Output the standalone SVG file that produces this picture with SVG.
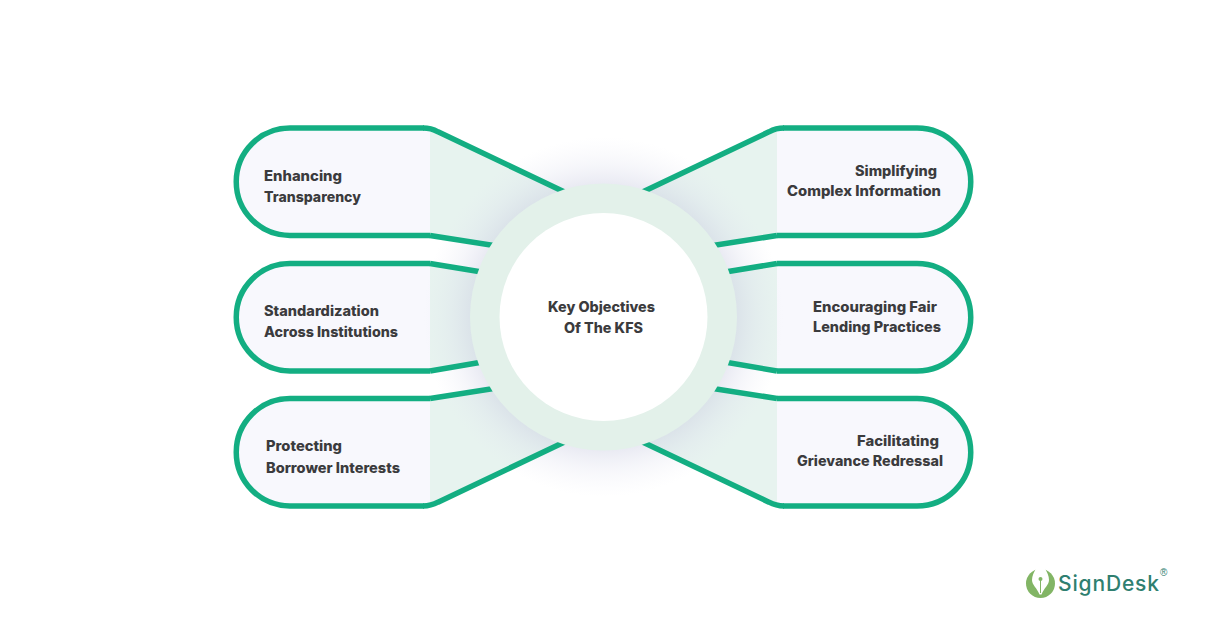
<svg xmlns="http://www.w3.org/2000/svg" width="1206" height="635" viewBox="0 0 1206 635">
<style>
.pill{fill:#f8f8fd}
.fan{fill:#e7f3ef}
.line{fill:none;stroke:#13ae82;stroke-width:5.5;stroke-linejoin:round;stroke-linecap:butt}
.t{font-family:"Inter","Liberation Sans",sans-serif;font-weight:800;font-size:14px;fill:#3b3b3d;transform:translateY(.5px)}
</style>
<defs>
<radialGradient id="glow" gradientUnits="userSpaceOnUse" cx="603.5" cy="317" r="180">
<stop offset="0.72" stop-color="#c9cbe0" stop-opacity="0.45"/>
<stop offset="0.85" stop-color="#d6d8ea" stop-opacity="0.22"/>
<stop offset="1" stop-color="#e6e6f2" stop-opacity="0"/>
</radialGradient>
</defs>
<rect width="1206" height="635" fill="#ffffff"/>
<g id="node-enhancing-transparency">
<path class="pill" d="M430,128H290A53.75,53.75 0 0 0 290,235.5H430Z"/>
<polygon class="fan" points="430,128 575,197 510,248 430,235.5"/>
<path class="line" d="M430,235.5H290A53.75,53.75 0 0 1 290,128H424"/>
<text class="t" x="264" y="180" textLength="78" lengthAdjust="spacingAndGlyphs">Enhancing</text>
<text class="t" x="264" y="201" textLength="97" lengthAdjust="spacingAndGlyphs">Transparency</text>
</g>
<g id="node-standardization">
<path class="pill" d="M430,263.5H290A53.75,53.75 0 0 0 290,371H430Z"/>
<polygon class="fan" points="430,263.5 500,275 500,359 430,371"/>
<path class="line" d="M430,371H290A53.75,53.75 0 0 1 290,263.5H430"/>
<text class="t" x="264" y="315" textLength="115" lengthAdjust="spacingAndGlyphs">Standardization</text>
<text class="t" x="264" y="336" textLength="134" lengthAdjust="spacingAndGlyphs">Across Institutions</text>
</g>
<g id="node-protecting-borrower">
<path class="pill" d="M430,398.5H290A53.75,53.75 0 0 0 290,506H430Z"/>
<polygon class="fan" points="430,398.5 510,386 575,437 430,506"/>
<path class="line" d="M424,506H290A53.75,53.75 0 0 1 290,398.5H430"/>
<text class="t" x="266" y="450" textLength="76" lengthAdjust="spacingAndGlyphs">Protecting</text>
<text class="t" x="266" y="472" textLength="134" lengthAdjust="spacingAndGlyphs">Borrower Interests</text>
</g>
<g id="node-simplifying">
<path class="pill" d="M777,128H917A53.75,53.75 0 0 1 917,235.5H777Z"/>
<polygon class="fan" points="777,128 632,197 697,248 777,235.5"/>
<path class="line" d="M777,235.5H917A53.75,53.75 0 0 0 917,128H783"/>
<text class="t" x="855" y="175" textLength="82" lengthAdjust="spacingAndGlyphs">Simplifying</text>
<text class="t" x="787" y="195" textLength="154" lengthAdjust="spacingAndGlyphs">Complex Information</text>
</g>
<g id="node-fair-lending">
<path class="pill" d="M777,263.5H917A53.75,53.75 0 0 1 917,371H777Z"/>
<polygon class="fan" points="777,263.5 707,275 707,359 777,371"/>
<path class="line" d="M777,371H917A53.75,53.75 0 0 0 917,263.5H777"/>
<text class="t" x="813" y="311" textLength="124" lengthAdjust="spacingAndGlyphs">Encouraging Fair</text>
<text class="t" x="813" y="331" textLength="128" lengthAdjust="spacingAndGlyphs">Lending Practices</text>
</g>
<g id="node-grievance">
<path class="pill" d="M777,398.5H917A53.75,53.75 0 0 1 917,506H777Z"/>
<polygon class="fan" points="777,398.5 697,386 632,437 777,506"/>
<path class="line" d="M783,506H917A53.75,53.75 0 0 0 917,398.5H777"/>
<text class="t" x="857" y="445" textLength="82" lengthAdjust="spacingAndGlyphs">Facilitating</text>
<text class="t" x="797" y="465" textLength="146" lengthAdjust="spacingAndGlyphs">Grievance Redressal</text>
</g>
<circle id="glow-halo" cx="603.5" cy="317" r="180" fill="url(#glow)"/>
<g id="connectors">
<path class="line" d="M423,128Q431,128 438,131.8L575,197"/>
<path class="line" d="M430,235.5L510,248"/>
<path class="line" d="M430,263.5L500,275"/>
<path class="line" d="M430,371L500,359"/>
<path class="line" d="M430,398.5L510,386"/>
<path class="line" d="M423,506Q431,506 438,502.2L575,437"/>
<path class="line" d="M784,128Q776,128 769,131.8L632,197"/>
<path class="line" d="M777,235.5L697,248"/>
<path class="line" d="M777,263.5L707,275"/>
<path class="line" d="M777,371L707,359"/>
<path class="line" d="M777,398.5L697,386"/>
<path class="line" d="M784,506Q776,506 769,502.2L632,437"/>
</g>
<g id="hub">
<circle cx="603.5" cy="317" r="133.5" fill="#e3f1ea"/>
<circle cx="603.5" cy="317" r="104" fill="#ffffff"/>
<text class="t" x="548" y="311" textLength="107" lengthAdjust="spacingAndGlyphs">Key Objectives</text>
<text class="t" x="564" y="332" textLength="79" lengthAdjust="spacingAndGlyphs">Of The KFS</text>
</g>
<g id="logo">
<circle cx="1040.5" cy="583.5" r="14.5" fill="#82b565"/>
<path d="M1036,568.5 L1045,568.5 C1047,572 1049,576 1049,580 C1049,585 1044,588 1041.5,594.5 L1039.5,594.5 C1037,588 1032,585 1032,580 C1032,576 1034,572 1036,568.5Z" fill="#ffffff"/>
<circle cx="1040.5" cy="579" r="2" fill="#82b565"/>
<path d="M1040.5,580V593" stroke="#82b565" stroke-width="1" fill="none"/>
<text x="1058" y="591" font-family="Inter,'Liberation Sans',sans-serif" font-weight="500" font-size="21" fill="#2f7f70" textLength="101" lengthAdjust="spacing">SignDesk</text>
<text x="1160" y="576" font-family="'Liberation Sans',sans-serif" font-size="10" fill="#2f7f70">®</text>
</g>
</svg>
